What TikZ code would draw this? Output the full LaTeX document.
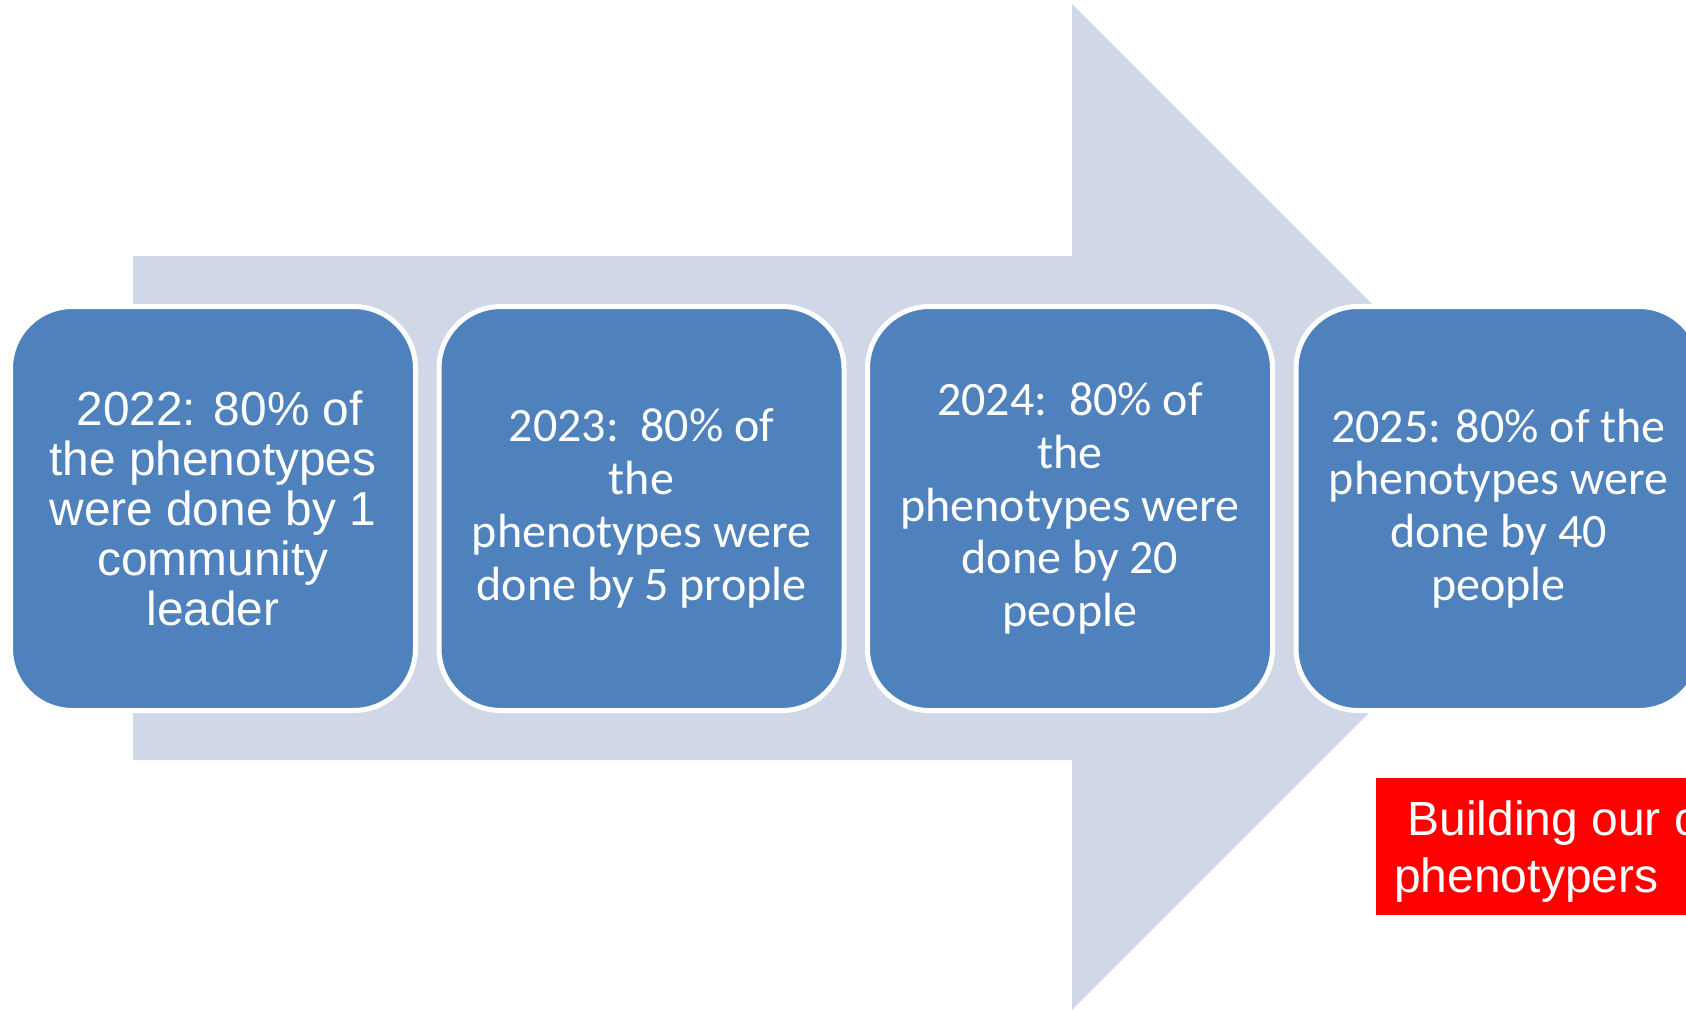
\documentclass[tikz,border=0pt]{standalone}
\usepackage{fontspec}
\setmainfont{Liberation Sans}
\newfontfamily\calibrilike{Carlito}
\definecolor{arrowfill}{HTML}{D0D8E8}
\definecolor{stagefill}{HTML}{4F81BD}
\definecolor{notered}{HTML}{FF0000}
\begin{document}
\begin{tikzpicture}[x=1pt,y=-1pt,
  stagebox/.style={draw=white, line width=5pt, fill=stagefill, rounded corners=62pt,
    minimum width=405pt, minimum height=404pt, inner sep=0pt},
  arialtext/.style={text=white, align=center, inner sep=0pt,
    font=\fontsize{47.8}{50}\selectfont},
  calibritext/.style={text=white, align=center, inner sep=0pt,
    font=\calibrilike\fontsize{48}{52.8}\selectfont},
  notetext/.style={text=white, align=left, inner sep=0pt, anchor=base west,
    font=\fontsize{48}{57}\selectfont}]
\useasboundingbox (0,0) rectangle (1686,1010);
\clip (0,0) rectangle (1686,1010);
\fill[white] (0,0) rectangle (1686,1010);

% big block arrow behind the stages
\fill[arrowfill] (133,256) -- (1072,256) -- (1072,4) -- (1575,507)
  -- (1072,1010) -- (1072,760) -- (133,760) -- cycle;

% the four stages
\node[stagebox] (s1) at (213,508.5) {};
\node[stagebox] (s2) at (641.5,508.5) {};
\node[stagebox] (s3) at (1070,508.5) {};
\node[stagebox] (s4) at (1498.5,508.5) {};

\node[arialtext] (t1) at (s1.center) {\ 2022: 80\% of\\the phenotypes\\were done by 1\\community\\leader};
\node[calibritext] (t2) at (s2.center) {2023:\ \ 80\% of\\the\\phenotypes were\\done by 5 prople};
\node[calibritext] (t3) at (s3.center) {2024:\ \ 80\% of\\the\\phenotypes were\\done by 20\\people};
\node[calibritext] (t4) at (s4.center) {2025: 80\% of the\\phenotypes were\\done by 40\\people};

% red note
\fill[notered] (1376,778) rectangle (1720,915);
\node[notetext] (n1) at (1394,835) {\ Building our own};
\node[notetext] (n2) at (1394,892) {phenotypers};
\end{tikzpicture}
\end{document}
